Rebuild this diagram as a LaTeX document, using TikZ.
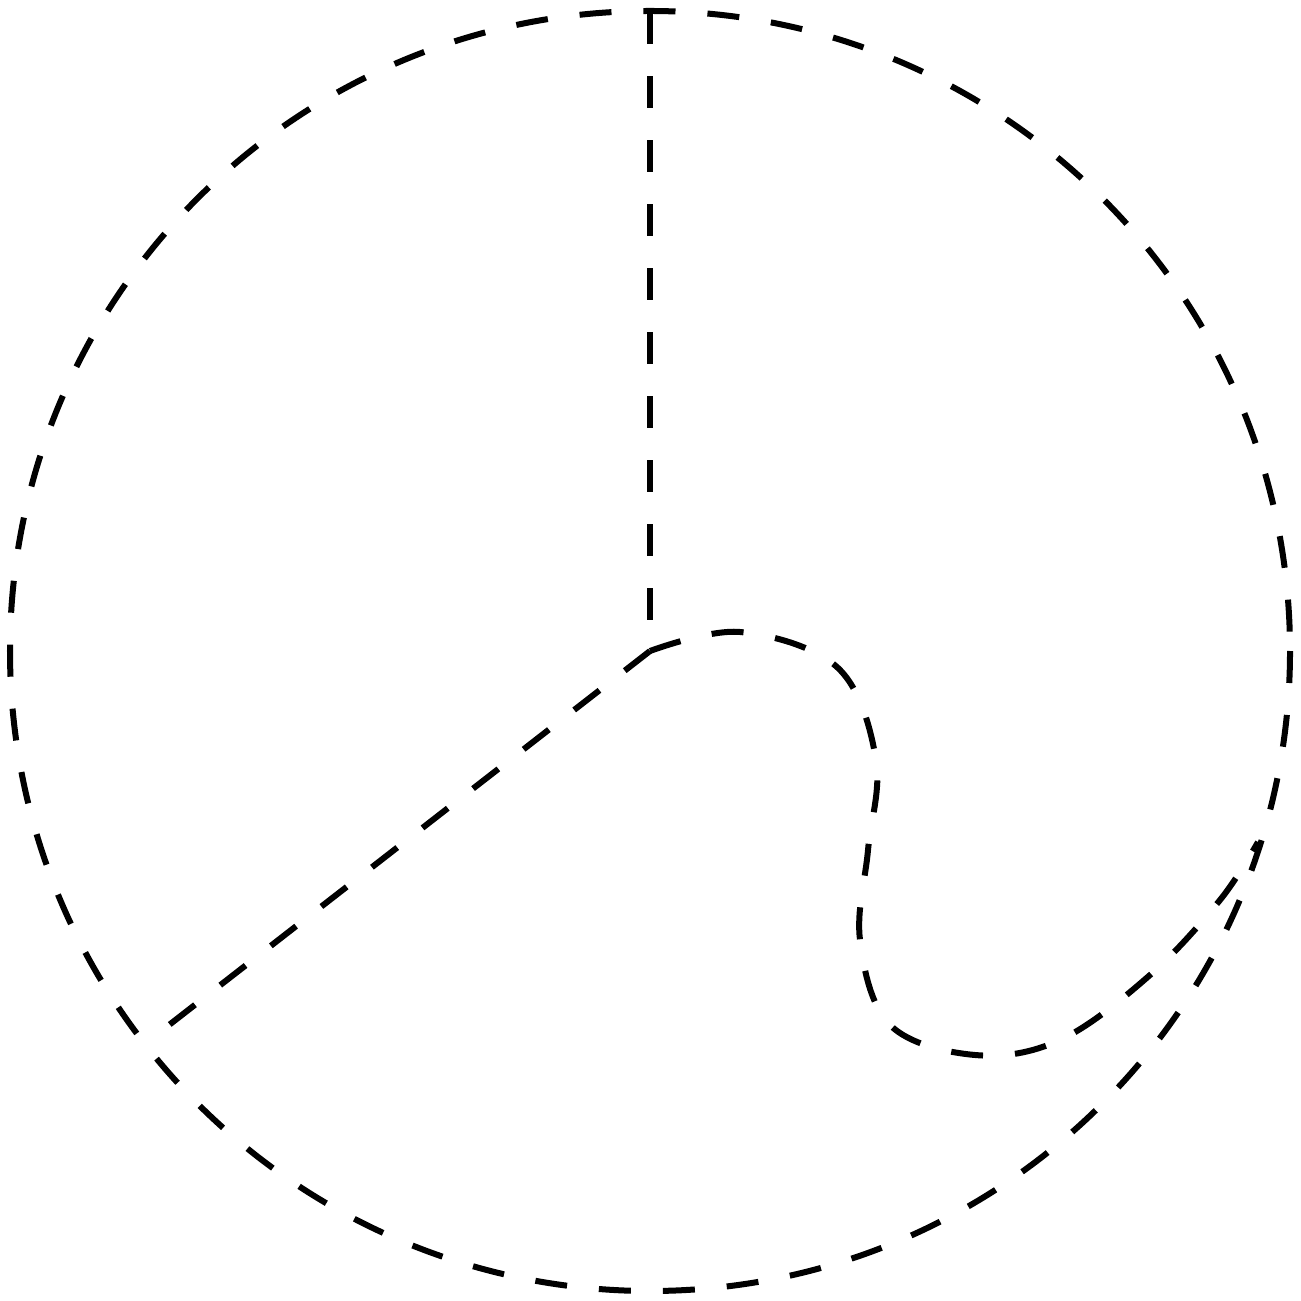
\documentclass[tikz,border=0pt]{standalone}
\begin{document}
\begin{tikzpicture}[x=0.01cm,y=-0.01cm,
  dline/.style={line width=0.06cm, dash pattern=on 0.32cm off 0.32cm}]
\useasboundingbox (0,0) rectangle (1300,1301);
\coordinate (c) at (650,651);
\coordinate (top) at (650,12);
\coordinate (ll) at (160,1032);
\coordinate (re) at (1258,842);
\draw[dline] (c) circle[radius=640];
\draw[dline] (top) -- (c);
\draw[dline] (c) -- (ll);
\draw[dline] plot[smooth, tension=0.6] coordinates {(650,651) (740,632) (838,668) (876,760) (868,850) (860,940) (890,1025) (975,1055) (1060,1040) (1150,975) (1220,900) (1258,842)};
\end{tikzpicture}
\end{document}
